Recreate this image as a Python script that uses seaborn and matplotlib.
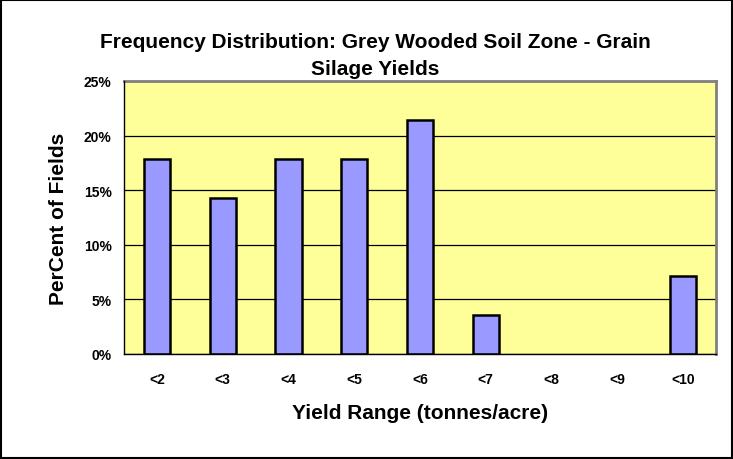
import matplotlib
matplotlib.use("Agg")
import matplotlib.pyplot as plt
import seaborn as sns
import pandas as pd
from matplotlib.ticker import PercentFormatter, MultipleLocator, FixedLocator
from matplotlib.patches import Rectangle

# Yield ranges and share of fields in each
categories = ["<2", "<3", "<4", "<5", "<6", "<7", "<8", "<9", "<10"]
percent_of_fields = [17.86, 14.29, 17.86, 17.86, 21.43, 3.57, 0.0, 0.0, 7.14]

df = pd.DataFrame({"range": categories, "pct": percent_of_fields})

sns.set_theme(style="white")
plt.rcParams["font.family"] = ["Liberation Sans", "DejaVu Sans"]
plt.rcParams["font.weight"] = "bold"
plt.rcParams["axes.labelweight"] = "bold"

fig = plt.figure(figsize=(7.33, 4.60), dpi=100)
ax = fig.add_axes([0.1692, 0.2283, 0.8076, 0.5935])
ax.set_facecolor("#FFFF99")

sns.barplot(data=df, x="range", y="pct", color="#9999FF", edgecolor="black",
            linewidth=1.8, width=0.4, saturation=1, ax=ax, zorder=2)

# empty ranges draw no outline
for bar in ax.patches:
    if bar.get_height() == 0:
        bar.set_linewidth(0)

ax.set_ylim(0, 25)
ax.set_xlim(-0.5, len(categories) - 0.5)
ax.yaxis.set_major_locator(MultipleLocator(5))
ax.yaxis.set_major_formatter(PercentFormatter(decimals=0))
ax.grid(axis="y", color="black", linewidth=0.9, zorder=1)
ax.set_axisbelow(True)

# category boundary ticks on the x axis
ax.xaxis.set_minor_locator(FixedLocator([i - 0.5 for i in range(len(categories) + 1)]))
ax.tick_params(axis="x", which="major", length=0, pad=13, labelsize=10, labelcolor="black")
ax.tick_params(axis="x", which="minor", length=5, width=1, color="black", direction="out")
ax.tick_params(axis="y", which="major", length=5, width=1, color="black", direction="out",
               labelsize=10, pad=4, labelcolor="black")
for lab in ax.get_xticklabels() + ax.get_yticklabels():
    lab.set_fontweight("bold")

for side in ["left", "bottom"]:
    ax.spines[side].set_color("black")
    ax.spines[side].set_linewidth(1.0)
    ax.spines[side].set_zorder(3)
for side in ["top", "right"]:
    ax.spines[side].set_color("#808080")
    ax.spines[side].set_linewidth(2.0)

ax.set_xlabel("Yield Range (tonnes/acre)", fontsize=15, fontweight="bold", color="black")
ax.set_ylabel("PerCent of Fields", fontsize=15, fontweight="bold", color="black")
ax.xaxis.set_label_coords(0.5, -0.18)
ax.yaxis.set_label_coords(-0.094, 0.5)

fig.text(0.512, 1 - 48 / 460, "Frequency Distribution: Grey Wooded Soil Zone - Grain",
         ha="center", va="baseline", fontsize=15, fontweight="bold", color="black")
fig.text(0.512, 1 - 75 / 460, "Silage Yields", ha="center", va="baseline",
         fontsize=15, fontweight="bold", color="black")

# outer chart border
fig.patches.append(Rectangle((0.001, 0.002), 0.997, 0.996, transform=fig.transFigure,
                             fill=False, edgecolor="black", linewidth=1.5))

fig.savefig("out.png", dpi=100, facecolor="white")
